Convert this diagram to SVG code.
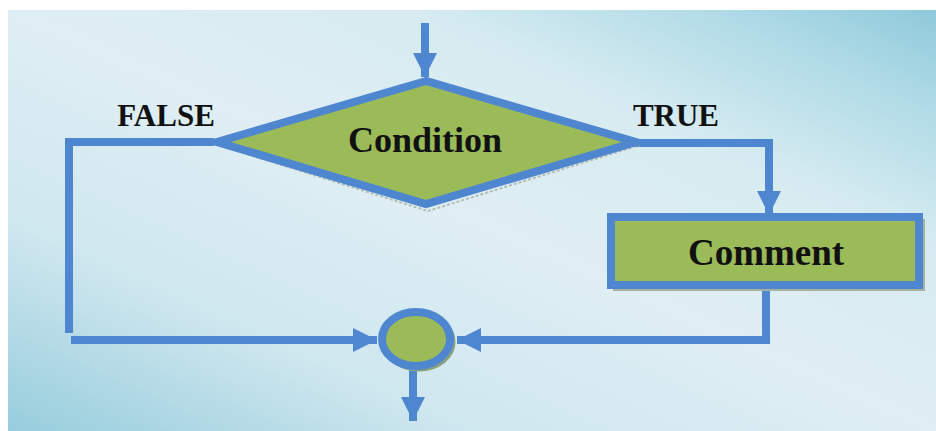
<svg xmlns="http://www.w3.org/2000/svg" width="936" height="431" viewBox="0 0 936 431">
<defs>
<linearGradient id="bg" x1="0" y1="1" x2="1" y2="0">
<stop offset="0" stop-color="#97cddc"/>
<stop offset="0.25" stop-color="#cfe7ef"/>
<stop offset="0.5" stop-color="#dfeef4"/>
<stop offset="0.72" stop-color="#d6ebf1"/>
<stop offset="0.88" stop-color="#b0dbe6"/>
<stop offset="1" stop-color="#8fc9da"/>
</linearGradient>
<marker id="ah" viewBox="0 0 10 10" refX="10" refY="5" markerWidth="3" markerHeight="3" markerUnits="strokeWidth" orient="auto">
<path d="M0,0 L10,5 L0,10 Z" fill="#4f86d0"/>
</marker>
<style>
.ln{fill:none;stroke:#4f86d0;stroke-width:8}
.shape{fill:#9bbb59;stroke:#4f86d0;stroke-width:8}
.shadow{fill:none;stroke:#a8b0a0;stroke-width:2;stroke-dasharray:3 2;opacity:0.8}
.lbl{font-family:"Liberation Serif","Times New Roman",serif;font-weight:bold;fill:#111;text-anchor:middle}
</style>
</defs>
<rect x="8" y="10" width="928" height="421" fill="url(#bg)"/>
<g id="connectors">
<line class="ln" x1="425" y1="23" x2="425" y2="77" marker-end="url(#ah)"/>
<polyline class="ln" points="214,142 69,142 69,333"/>
<line class="ln" x1="71" y1="340" x2="377" y2="340" marker-end="url(#ah)"/>
<polyline class="ln" points="636,143 769,143 769,215" marker-end="url(#ah)"/>
<polyline class="ln" points="766,288 766,340 457,340" marker-end="url(#ah)"/>
<line class="ln" x1="413" y1="370" x2="413" y2="421" marker-end="url(#ah)"/>
</g>
<g id="condition">
<polygon class="shadow" points="218,145 428,211 640,145"/>
<polygon class="shape" points="426,81 217,142 426,204 636,142"/>
<text class="lbl" x="425" y="152" font-size="36">Condition</text>
</g>
<g id="false-label"><text class="lbl" x="166" y="126" font-size="31">FALSE</text></g>
<g id="true-label"><text class="lbl" x="676" y="126" font-size="31">TRUE</text></g>
<g id="comment">
<rect x="614" y="220" width="310" height="70" fill="none" stroke="#a8b0a0" stroke-width="2"/>
<rect class="shape" x="611" y="217" width="308" height="68"/>
<text class="lbl" x="766" y="265" font-size="37">Comment</text>
</g>
<g id="junction">
<ellipse cx="419" cy="342" rx="35" ry="28" fill="none" stroke="#8aa07a" stroke-width="3"/>
<ellipse class="shape" cx="416" cy="339" rx="34" ry="27"/>
</g>
</svg>
